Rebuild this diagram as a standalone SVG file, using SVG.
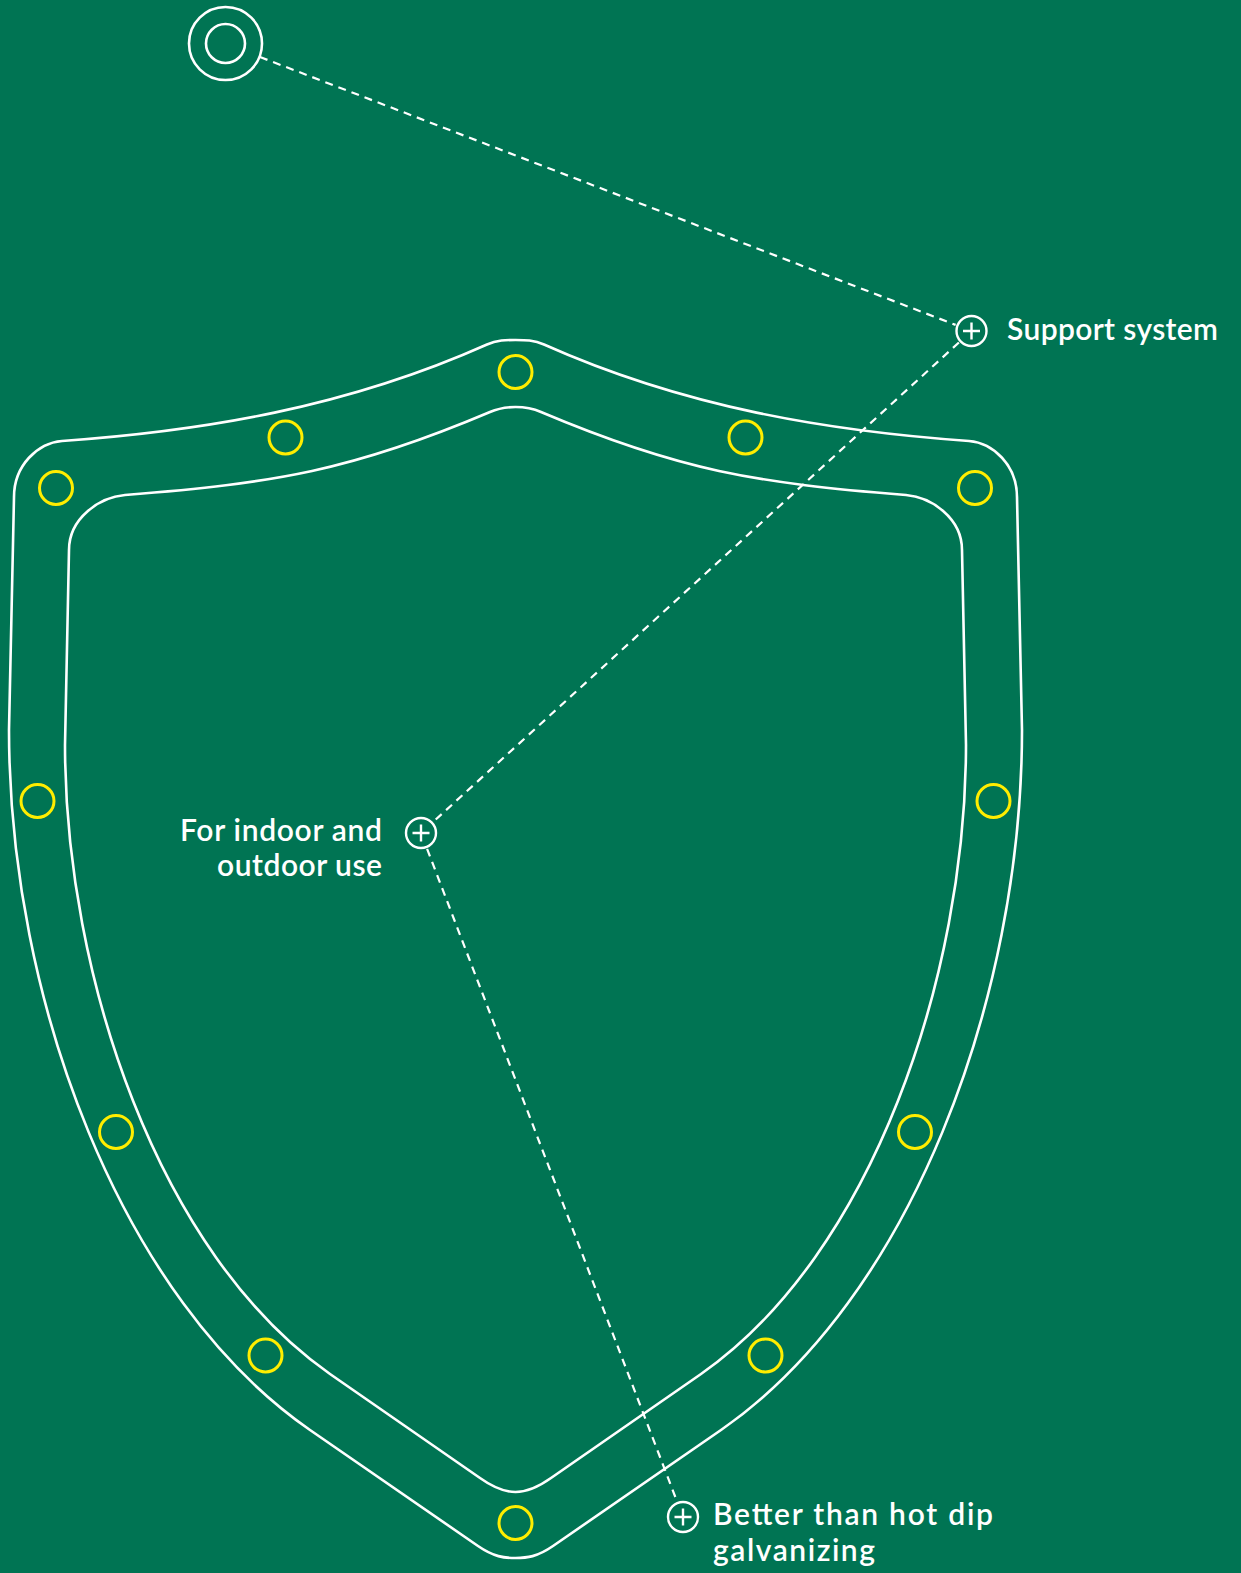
<svg xmlns="http://www.w3.org/2000/svg" width="1241" height="1573" viewBox="0 0 1241 1573">
<style>
.shield{fill:none;stroke:#fff;stroke-width:2.6;stroke-linejoin:round}
.bolt{fill:none;stroke:#ffed00;stroke-width:3}
.dash{fill:none;stroke:#fff;stroke-width:2.2;stroke-dasharray:8 6}
.ring{fill:none;stroke:#fff;stroke-width:2.6}
.plus{fill:none;stroke:#fff;stroke-width:2.4}
.lbl{font-family:Lato,"Liberation Sans",sans-serif;font-size:30px;font-weight:600;fill:#fff}
</style>
<defs>
<g id="pl"><circle class="plus" r="15"/><path class="plus" d="M-8.5 0H8.5M0 -8.5V8.5"/></g>
</defs>
<rect width="1241" height="1573" fill="#007453"/>
<g id="shield">
<path class="shield" d="M515.5,340 C506,340 497,340 487,344.5 C346,407.5 203,431 62,441 C38,443 14,465 14,497 L9,730 C9,1000 121,1299 310,1430 L478,1546 C494,1557 504,1558 515.5,1558 C527,1558 537,1557 553,1546 L721,1430 C910,1299 1022,1000 1022,730 L1017,497 C1017,465 993,443 969,441 C828,431 685,407.5 544,344.5 C534,340 525,340 515.5,340 Z"/>
<path class="shield" d="M515.5,407 C507,407 499,408 490,412 C352,470.5 275,483 125,495 C100,497 69,518 69,550 L65,745 C65,975 158,1254 330,1374 L480,1478 C494,1488 504,1492 515.5,1492 C527,1492 537,1488 551,1478 L701,1374 C873,1254 966,975 966,745 L962,550 C962,518 931,497 906,495 C756,483 679,470.5 541,412 C532,408 524,407 515.5,407 Z"/>
</g>
<g id="bolts">
<circle class="bolt" cx="515.5" cy="372" r="16.5"/>
<circle class="bolt" cx="285.5" cy="437.5" r="16.5"/>
<circle class="bolt" cx="745.5" cy="437.5" r="16.5"/>
<circle class="bolt" cx="56" cy="488" r="16.5"/>
<circle class="bolt" cx="975" cy="488" r="16.5"/>
<circle class="bolt" cx="37.5" cy="801" r="16.5"/>
<circle class="bolt" cx="993.5" cy="801" r="16.5"/>
<circle class="bolt" cx="116" cy="1132" r="16.5"/>
<circle class="bolt" cx="915" cy="1132" r="16.5"/>
<circle class="bolt" cx="265.5" cy="1355.5" r="16.5"/>
<circle class="bolt" cx="765.5" cy="1355.5" r="16.5"/>
<circle class="bolt" cx="515.5" cy="1523" r="16.5"/>
</g>
<g id="connectors">
<path class="dash" d="M260,57 L955.6,324.9"/>
<path class="dash" d="M958.9,342.5 L433.6,821.5"/>
<path class="dash" d="M427.1,848.9 L676.9,1501.1"/>
</g>
<g id="support-origin">
<circle class="ring" cx="225.5" cy="43.5" r="36.5"/>
<circle class="ring" cx="225.5" cy="43.5" r="19.5"/>
</g>
<g id="support-system">
<use href="#pl" x="971.5" y="331"/>
<text class="lbl" x="1007" y="340" textLength="211">Support system</text>
</g>
<g id="indoor-outdoor">
<use href="#pl" x="421" y="833"/>
<text class="lbl" x="180" y="841" textLength="202">For indoor and</text>
<text class="lbl" x="217" y="876" textLength="165">outdoor use</text>
</g>
<g id="galvanizing">
<use href="#pl" x="683" y="1517"/>
<text class="lbl" x="713" y="1525" textLength="280">Better than hot dip</text>
<text class="lbl" x="713" y="1561" textLength="162">galvanizing</text>
</g>
</svg>
